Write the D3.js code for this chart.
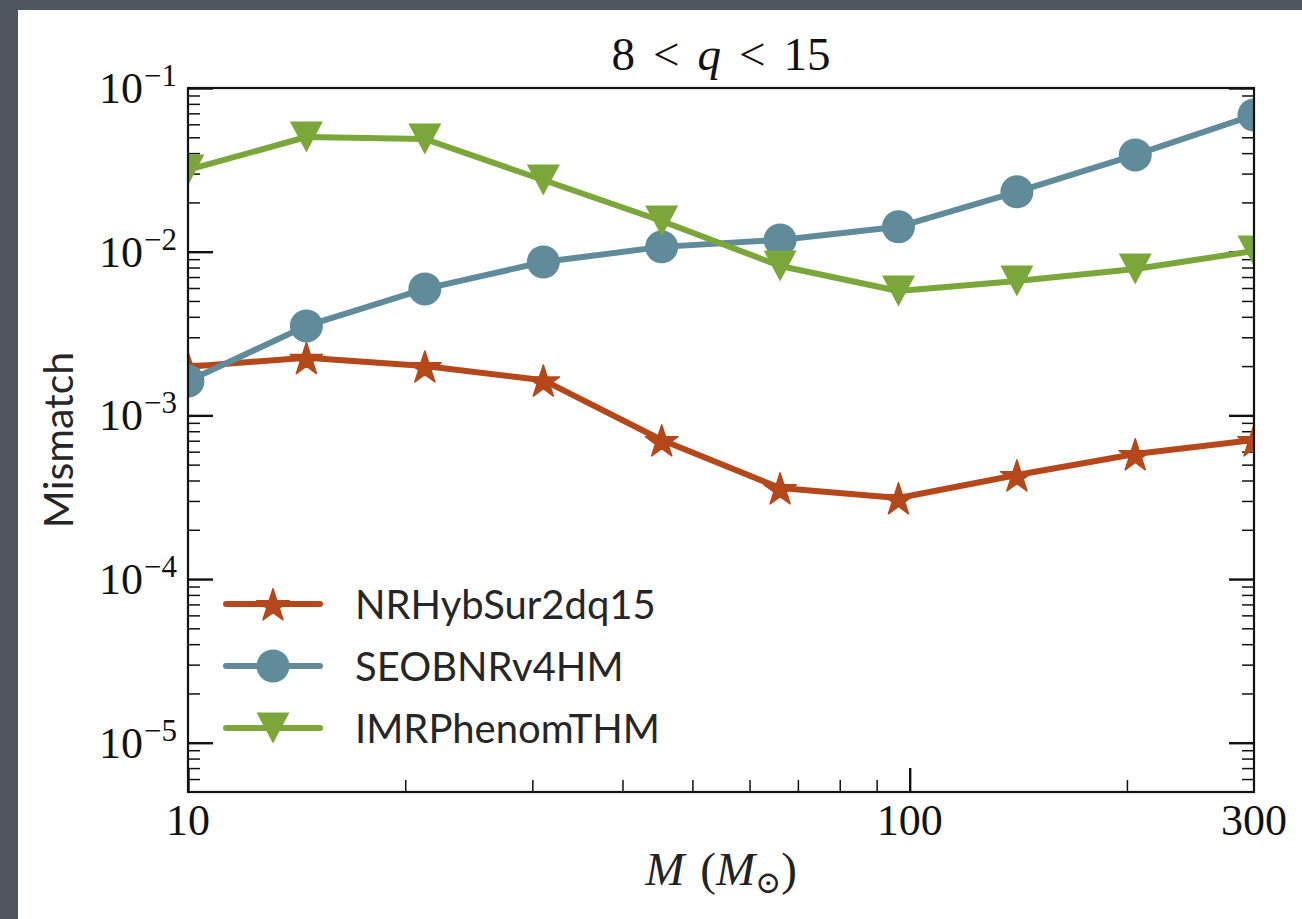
<!DOCTYPE html>
<html>
<head>
<meta charset="utf-8">
<script src="https://cdn.jsdelivr.net/npm/d3@7"></script>
<style>
  body { margin: 0; background: #50565f; }
  svg { display: block; }
</style>
</head>
<body>
<div id="chart"></div>
<script>
// total mass grid (solar masses), log spaced 10..300
const masses = [10, 14.59, 21.29, 31.07, 45.33, 66.14, 96.49, 140.8, 205.4, 300];

// mismatch per model
const nrHybSur = [0.00198, 0.00225, 0.00200, 0.00164, 0.000707, 0.000360, 0.000313, 0.000432, 0.000581, 0.000707];
const seobnr = [0.00162, 0.00352, 0.00592, 0.00865, 0.0107, 0.0118, 0.0142, 0.0232, 0.0390, 0.0684];
const imrPhenom = [0.0316, 0.0502, 0.0488, 0.0274, 0.0154, 0.00818, 0.00575, 0.00662, 0.00784, 0.0101];

const seriesNames = ["NRHybSur2dq15", "SEOBNRv4HM", "IMRPhenomTHM"];

// ticks
const xMajorTicks = [10, 100, 300];
const xMinorTicks = [20, 30, 40, 50, 60, 70, 80, 90, 200];
const yMajorExponents = [-1, -2, -3, -4, -5];
const yMinorTicks = [
  6e-6, 7e-6, 8e-6, 9e-6,
  2e-5, 3e-5, 4e-5, 5e-5, 6e-5, 7e-5, 8e-5, 9e-5,
  2e-4, 3e-4, 4e-4, 5e-4, 6e-4, 7e-4, 8e-4, 9e-4,
  2e-3, 3e-3, 4e-3, 5e-3, 6e-3, 7e-3, 8e-3, 9e-3,
  2e-2, 3e-2, 4e-2, 5e-2, 6e-2, 7e-2, 8e-2, 9e-2
];

const W = 1302, H = 919;
const plot = { left: 188, top: 88, right: 1254, bottom: 792 };
const serif = "'Liberation Serif', 'DejaVu Serif', serif";
const sans = "Lato, 'DejaVu Sans', sans-serif";

const svg = d3.select("#chart").append("svg")
  .attr("width", W)
  .attr("height", H);

// page frame
svg.append("rect").attr("width", W).attr("height", H).attr("fill", "#50565f");
svg.append("rect").attr("x", 18).attr("y", 10).attr("width", W - 18).attr("height", H - 10).attr("fill", "#fff");

const x = d3.scaleLog().domain([10, 300]).range([plot.left, plot.right]);
const y = d3.scaleLog().domain([5e-6, 0.1]).range([plot.bottom, plot.top]);

svg.append("clipPath").attr("id", "plotClip")
  .append("rect")
  .attr("x", plot.left).attr("y", plot.top)
  .attr("width", plot.right - plot.left).attr("height", plot.bottom - plot.top);

// ---- ticks (all pointing inward)
function tickGroup(axis, tx, ty, width) {
  const g = svg.append("g")
    .attr("transform", `translate(${tx},${ty})`)
    .call(axis);
  g.select(".domain").remove();
  g.selectAll(".tick line").attr("stroke", "#111").attr("stroke-width", width);
  g.selectAll(".tick text").remove();
  return g;
}

const yMajorVals = yMajorExponents.map((e) => Math.pow(10, e));

tickGroup(d3.axisLeft(y).tickValues(yMinorTicks).tickSize(-12), plot.left, 0, 1.5);
tickGroup(d3.axisLeft(y).tickValues(yMajorVals).tickSize(-25), plot.left, 0, 2.4);
tickGroup(d3.axisRight(y).tickValues(yMinorTicks).tickSize(-12), plot.right, 0, 1.5);
tickGroup(d3.axisRight(y).tickValues(yMajorVals).tickSize(-25), plot.right, 0, 2.4);
tickGroup(d3.axisBottom(x).tickValues(xMinorTicks).tickSize(-12), 0, plot.bottom, 1.5);
tickGroup(d3.axisBottom(x).tickValues([10, 100]).tickSize(-24), 0, plot.bottom, 2.4);

// ---- series
const series = [
  { name: seriesNames[0], values: nrHybSur, color: "#b5481b", marker: "star" },
  { name: seriesNames[1], values: seobnr, color: "#5f8b9b", marker: "circle" },
  { name: seriesNames[2], values: imrPhenom, color: "#7ba73a", marker: "tri" }
];

function drawMarker(sel, kind, color) {
  if (kind === "circle") {
    sel.append("circle").attr("r", 16.5).attr("fill", color);
  } else if (kind === "star") {
    sel.append("path")
      .attr("d", d3.symbol(d3.symbolStar, 330)())
      .attr("transform", "translate(0,2)")
      .attr("fill", color)
      .attr("stroke", color)
      .attr("stroke-width", 1.5)
      .attr("stroke-linejoin", "round");
  } else {
    sel.append("path")
      .attr("d", "M-16.5,-15.5L16.5,-15.5L0,15.5Z")
      .attr("fill", color);
  }
}

const line = d3.line()
  .x((d) => x(d.m))
  .y((d) => y(d.v));

const plotArea = svg.append("g").attr("clip-path", "url(#plotClip)");

series.forEach((s) => {
  const pts = masses.map((m, i) => ({ m: m, v: s.values[i] }));
  const g = plotArea.append("g");
  g.append("path")
    .datum(pts)
    .attr("d", line)
    .attr("fill", "none")
    .attr("stroke", s.color)
    .attr("stroke-width", 6)
    .attr("stroke-linejoin", "round");
  g.selectAll(".mk")
    .data(pts)
    .enter()
    .append("g")
    .attr("class", "mk")
    .attr("transform", (d) => `translate(${x(d.m)},${y(d.v)})`)
    .each(function () { drawMarker(d3.select(this), s.marker, s.color); });
});

// ---- frame
svg.append("rect")
  .attr("x", plot.left).attr("y", plot.top)
  .attr("width", plot.right - plot.left).attr("height", plot.bottom - plot.top)
  .attr("fill", "none")
  .attr("stroke", "#111")
  .attr("stroke-width", 2.2);

// ---- tick labels
yMajorExponents.forEach((e) => {
  const t = svg.append("text")
    .attr("x", 177)
    .attr("y", y(Math.pow(10, e)) + 15)
    .attr("text-anchor", "end")
    .attr("font-family", serif)
    .attr("font-size", 44)
    .attr("fill", "#111");
  t.append("tspan").text("10");
  t.append("tspan").attr("dy", -17).attr("dx", 1).attr("font-size", 31).text("\u2212" + Math.abs(e));
});

xMajorTicks.forEach((v) => {
  svg.append("text")
    .attr("x", x(v))
    .attr("y", 835)
    .attr("text-anchor", "middle")
    .attr("font-family", serif)
    .attr("font-size", 44)
    .attr("fill", "#111")
    .text(v);
});

// ---- title
const title = svg.append("text")
  .attr("x", (plot.left + plot.right) / 2)
  .attr("y", 70)
  .attr("text-anchor", "middle")
  .attr("font-family", serif)
  .attr("font-size", 47)
  .attr("fill", "#111");
title.append("tspan").text("8");
title.append("tspan").attr("dx", 18).text("<");
title.append("tspan").attr("dx", 18).attr("font-style", "italic").text("q");
title.append("tspan").attr("dx", 18).text("<");
title.append("tspan").attr("dx", 18).text("15");

// ---- axis labels
const xl = svg.append("text")
  .attr("x", (plot.left + plot.right) / 2)
  .attr("y", 885)
  .attr("text-anchor", "middle")
  .attr("font-family", serif)
  .attr("font-size", 47)
  .attr("fill", "#222");
xl.append("tspan").attr("font-style", "italic").text("M");
xl.append("tspan").attr("dx", 16).text("(");
xl.append("tspan").attr("font-style", "italic").text("M");
xl.append("tspan").attr("font-size", 31).attr("dy", 8).text("\u2299");
xl.append("tspan").attr("dy", -8).text(")");

svg.append("text")
  .attr("transform", `translate(73,${(plot.top + plot.bottom) / 2}) rotate(-90)`)
  .attr("text-anchor", "middle")
  .attr("font-family", sans)
  .attr("font-size", 41)
  .attr("fill", "#262626")
  .text("Mismatch");

// ---- legend
const legend = svg.append("g").attr("transform", "translate(226,604)");
series.forEach((s, i) => {
  const row = legend.append("g").attr("transform", `translate(0,${i * 62})`);
  row.append("line")
    .attr("x1", 0).attr("x2", 94)
    .attr("stroke", s.color)
    .attr("stroke-width", 6)
    .attr("stroke-linecap", "round");
  const mk = row.append("g").attr("transform", "translate(47,0)");
  drawMarker(mk, s.marker, s.color);
  row.append("text")
    .attr("x", 129)
    .attr("y", 15)
    .attr("font-family", sans)
    .attr("font-size", 40)
    .attr("fill", "#262626")
    .text(s.name);
});
</script>
</body>
</html>
